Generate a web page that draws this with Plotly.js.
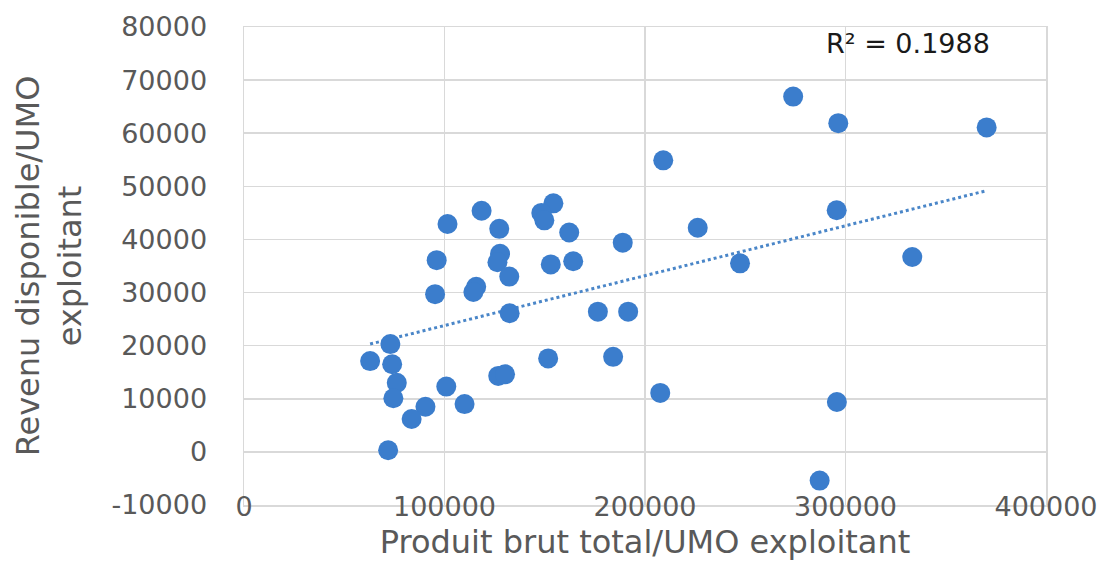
<!DOCTYPE html>
<html>
<head>
<meta charset="utf-8">
<script src="https://cdn.plot.ly/plotly-3.0.1.min.js"></script>
<style>
  html, body { margin: 0; padding: 0; background: #ffffff; }
  #chart { width: 1103px; height: 561px; }
</style>
</head>
<body>
<div id="chart"></div>
<script>
// Produit brut total / UMO exploitant (x) and Revenu disponible / UMO exploitant (y)
var produitBrut = [
  273900, 296400, 370400, 209100, 295600, 226300, 154300, 148300, 149800, 118500,
  101500, 127300, 162200, 188900, 333300, 247400, 96100, 127700, 126400, 153000,
  164200, 132300, 115800, 114400, 95300, 132500, 176500, 191600, 73000, 62900,
  151700, 184100, 73900, 76200, 74500, 100900, 126800, 130200, 207600, 295700,
  90500, 110000, 83600, 71900, 287100
];
var revenuDisponible = [
  66900, 61900, 61100, 54900, 45500, 42200, 46800, 45000, 43600, 45400,
  42900, 42000, 41300, 39400, 36700, 35500, 36100, 37300, 35700, 35300,
  35900, 33000, 31100, 30100, 29700, 26100, 26400, 26400, 20300, 17100,
  17600, 17900, 16500, 13000, 10100, 12300, 14300, 14600, 11100, 9400,
  8500, 9000, 6200, 300, -5400
];
var xTickVals = [0, 100000, 200000, 300000, 400000];
var xTickText = ["0", "100000", "200000", "300000", "400000"];
var yTickVals = [-10000, 0, 10000, 20000, 30000, 40000, 50000, 60000, 70000, 80000];
var yTickText = ["-10000", "0", "10000", "20000", "30000", "40000", "50000", "60000", "70000", "80000"];
var r2Label = "R² = 0.1988";
var xTitle = "Produit brut total/UMO exploitant";
var yTitle = "Revenu disponible/UMO<br>exploitant";

// Linear trendline (least squares) from the data, drawn across the data's x extent
function linearFit(xs, ys) {
  var n = xs.length, sx = 0, sy = 0, sxx = 0, sxy = 0;
  for (var i = 0; i < n; i++) { sx += xs[i]; sy += ys[i]; sxx += xs[i]*xs[i]; sxy += xs[i]*ys[i]; }
  var slope = (n*sxy - sx*sy) / (n*sxx - sx*sx);
  var intercept = (sy - slope*sx) / n;
  return {slope: slope, intercept: intercept};
}
var fit = linearFit(produitBrut, revenuDisponible);
var xMin = Math.min.apply(null, produitBrut), xMax = Math.max.apply(null, produitBrut);
var trendX = [xMin, xMax];
var trendY = trendX.map(function (v) { return fit.intercept + fit.slope * v; });

var blue = "#3b7dcc";
var tickFont = {family: "DejaVu Sans", size: 27, color: "#595959"};

var data = [
  {
    type: "scatter", mode: "lines", x: trendX, y: trendY,
    line: {color: "#4a86c8", width: 3, dash: "dot"},
    hoverinfo: "skip", showlegend: false
  },
  {
    type: "scatter", mode: "markers", x: produitBrut, y: revenuDisponible,
    marker: {color: blue, size: 20, line: {width: 0}},
    showlegend: false
  }
];

var layout = {
  width: 1103, height: 561,
  margin: {l: 244, r: 57, t: 27, b: 56, pad: 0},
  paper_bgcolor: "#ffffff", plot_bgcolor: "#ffffff",
  showlegend: false,
  xaxis: {
    range: [0, 400000], tickmode: "array", tickvals: xTickVals, ticktext: xTickText,
    showgrid: true, gridcolor: "#d9d9d9", gridwidth: 1.5, zeroline: false,
    showline: true, linecolor: "#d9d9d9", linewidth: 1.5, mirror: true,
    ticks: "", tickfont: tickFont, ticklabelstandoff: -23,
    title: {text: xTitle, font: {family: "DejaVu Sans", size: 32, color: "#595959"}, standoff: 14},
    automargin: false
  },
  yaxis: {
    range: [-10000, 80000], tickmode: "array", tickvals: yTickVals, ticktext: yTickText,
    showgrid: true, gridcolor: "#d9d9d9", gridwidth: 1.5, zeroline: false,
    showline: true, linecolor: "#d9d9d9", linewidth: 1.5, mirror: true,
    ticks: "", tickfont: tickFont, ticklabelstandoff: 30,
    title: {text: yTitle, font: {family: "DejaVu Sans", size: 32, color: "#595959"}, standoff: 20},
    automargin: false
  },
  annotations: [
    {
      xref: "paper", yref: "paper", x: 0.828, y: 0.965, xanchor: "center", yanchor: "middle",
      text: r2Label, showarrow: false,
      font: {family: "DejaVu Sans", size: 27, color: "#1a1a1a"}
    }
  ]
};

Plotly.newPlot("chart", data, layout, {displayModeBar: false, staticPlot: true});
</script>
</body>
</html>
